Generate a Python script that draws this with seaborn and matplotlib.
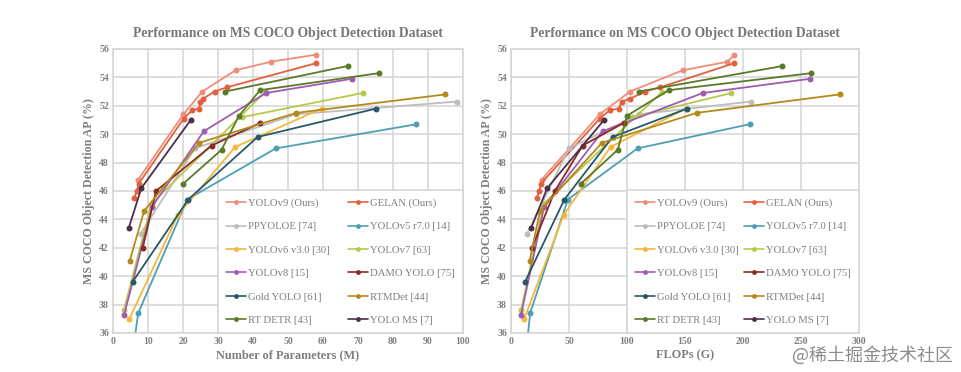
import matplotlib
matplotlib.use("Agg")
import matplotlib.pyplot as plt
from matplotlib.lines import Line2D
import seaborn as sns
import pandas as pd

# ---------------- data ----------------
models = ["YOLOv9 (Ours)", "GELAN (Ours)", "PPYOLOE [74]", "YOLOv5 r7.0 [14]",
          "YOLOv6 v3.0 [30]", "YOLOv7 [63]", "YOLOv8 [15]", "DAMO YOLO [75]",
          "Gold YOLO [61]", "RTMDet [44]", "RT DETR [43]", "YOLO MS [7]"]

yolov9_params = [7.2, 20.1, 25.5, 35.0, 45.0, 58.0]
yolov9_flops = [26.4, 76.5, 102.5, 148.0, 186.5, 192.5]
yolov9_ap = [46.8, 51.4, 53.0, 54.5, 55.1, 55.6]

gelan_params = [6.0, 6.8, 7.3, 20.2, 22.7, 24.7, 24.9, 25.7, 29.0, 32.5, 58.0]
gelan_flops = [22.1, 24.4, 25.6, 76.5, 85.3, 93.0, 95.4, 102.5, 115.5, 128.4, 192.5]
gelan_ap = [45.5, 46.0, 46.5, 51.1, 51.7, 51.8, 52.3, 52.5, 53.0, 53.3, 55.0]

ppyoloe_params = [7.9, 23.4, 52.2, 98.4]
ppyoloe_flops = [14.0, 49.9, 110.1, 206.6]
ppyoloe_ap = [43.0, 49.0, 51.4, 52.3]

yolov5_params = [1.9, 7.2, 21.2, 46.5, 86.7]
yolov5_flops = [4.5, 16.5, 49.0, 109.1, 205.7]
yolov5_ap = [28.0, 37.4, 45.4, 49.0, 50.7]

yolov6_params = [4.7, 18.5, 34.9, 59.6]
yolov6_flops = [11.4, 45.3, 85.8, 150.7]
yolov6_ap = [37.0, 44.3, 49.1, 51.8]

yolov7_af_params = [3.1, 11.0, 43.6]
yolov7_af_flops = [8.7, 28.1, 130.5]
yolov7_af_ap = [37.6, 45.1, 53.0]
yolov7_params = [36.9, 71.3]
yolov7_flops = [104.7, 189.9]
yolov7_ap = [51.2, 52.9]

yolov8_params = [3.2, 11.2, 25.9, 43.7, 68.2]
yolov8_flops = [8.7, 28.6, 78.9, 165.2, 257.8]
yolov8_ap = [37.3, 44.9, 50.2, 52.9, 53.9]

damo_params = [8.5, 12.3, 28.2, 42.1]
damo_flops = [18.1, 37.8, 61.8, 97.3]
damo_ap = [42.0, 46.0, 49.2, 50.8]

gold_params = [5.6, 21.5, 41.3, 75.1]
gold_flops = [12.1, 46.0, 87.5, 151.7]
gold_ap = [39.6, 45.4, 49.8, 51.8]

rtmdet_params = [4.8, 8.9, 24.7, 52.3, 94.9]
rtmdet_flops = [16.1, 25.0, 78.5, 160.0, 283.3]
rtmdet_ap = [41.1, 44.6, 49.4, 51.5, 52.8]

rtdetr_r_params = [20.0, 31.0, 36.0, 42.0, 76.0]
rtdetr_r_flops = [60.0, 92.0, 100.0, 136.0, 259.0]
rtdetr_r_ap = [46.5, 48.9, 51.3, 53.1, 54.3]
rtdetr_params = [32.0, 67.0]
rtdetr_flops = [110.0, 234.0]
rtdetr_ap = [53.0, 54.8]

yoloms_params = [4.5, 8.1, 22.2]
yoloms_flops = [17.4, 31.2, 80.2]
yoloms_ap = [43.4, 46.2, 51.0]

series = [
    ("YOLOv9 (Ours)", yolov9_params, yolov9_flops, yolov9_ap),
    ("GELAN (Ours)", gelan_params, gelan_flops, gelan_ap),
    ("PPYOLOE [74]", ppyoloe_params, ppyoloe_flops, ppyoloe_ap),
    ("YOLOv5 r7.0 [14]", yolov5_params, yolov5_flops, yolov5_ap),
    ("YOLOv6 v3.0 [30]", yolov6_params, yolov6_flops, yolov6_ap),
    ("YOLOv7 [63]", yolov7_af_params, yolov7_af_flops, yolov7_af_ap),
    ("YOLOv7 [63]", yolov7_params, yolov7_flops, yolov7_ap),
    ("YOLOv8 [15]", yolov8_params, yolov8_flops, yolov8_ap),
    ("DAMO YOLO [75]", damo_params, damo_flops, damo_ap),
    ("Gold YOLO [61]", gold_params, gold_flops, gold_ap),
    ("RTMDet [44]", rtmdet_params, rtmdet_flops, rtmdet_ap),
    ("RT DETR [43]", rtdetr_r_params, rtdetr_r_flops, rtdetr_r_ap),
    ("RT DETR [43]", rtdetr_params, rtdetr_flops, rtdetr_ap),
    ("YOLO MS [7]", yoloms_params, yoloms_flops, yoloms_ap),
]

colors = {
    "YOLOv9 (Ours)": "#EE8E7A",
    "GELAN (Ours)": "#E3603F",
    "PPYOLOE [74]": "#BDBDBD",
    "YOLOv5 r7.0 [14]": "#4E9FB3",
    "YOLOv6 v3.0 [30]": "#F3B83C",
    "YOLOv7 [63]": "#B7C94C",
    "YOLOv8 [15]": "#A05CB0",
    "DAMO YOLO [75]": "#8A2B24",
    "Gold YOLO [61]": "#275868",
    "RTMDet [44]": "#B58A1A",
    "RT DETR [43]": "#5B7A27",
    "YOLO MS [7]": "#4B2F4B",
}

rows = []
for seg, (name, p, f, a) in enumerate(series):
    for i in range(len(p)):
        rows.append({"model": name, "seg": seg, "params": p[i], "flops": f[i], "ap": a[i], "idx": i})
df = pd.DataFrame(rows)

# ---------------- style ----------------
sns.set_theme(style="whitegrid")
plt.rcParams["font.family"] = ["Liberation Serif", "DejaVu Serif"]
grey_txt = "#7f7f7f"
grid_c = "#d4d4d4"

fig = plt.figure(figsize=(9.61, 3.72), dpi=100)
ax1 = fig.add_axes([113 / 961, 39 / 372, 350 / 961, 284 / 372])
ax2 = fig.add_axes([511 / 961, 39 / 372, 348 / 961, 284 / 372])

legend_order = ["YOLOv9 (Ours)", "PPYOLOE [74]", "YOLOv6 v3.0 [30]", "YOLOv8 [15]",
                "Gold YOLO [61]", "RT DETR [43]",
                "GELAN (Ours)", "YOLOv5 r7.0 [14]", "YOLOv7 [63]", "DAMO YOLO [75]",
                "RTMDet [44]", "YOLO MS [7]"]

def draw(ax, xcol, xmax, xstep, xlabel, leg_left):
    sns.lineplot(data=df, x=xcol, y="ap", hue="model", units="seg", estimator=None,
                 sort=False, palette=colors, hue_order=models, marker="o",
                 markersize=4.3, markeredgewidth=0, linewidth=1.3, legend=False, ax=ax)
    ax.set_xlim(0, xmax)
    ax.set_ylim(36, 56)
    ax.set_xticks(range(0, xmax + 1, xstep))
    ax.set_yticks(range(36, 57, 2))
    ax.grid(True, color=grid_c, linewidth=1.1)
    for s in ax.spines.values():
        s.set_color(grid_c)
        s.set_linewidth(1.1)
    ax.tick_params(axis="both", labelsize=7, colors=grey_txt, pad=3, length=0)
    for lab in ax.get_xticklabels() + ax.get_yticklabels():
        lab.set_fontweight("bold")
    ax.set_xlabel(xlabel, fontsize=8.8, fontweight="bold", color=grey_txt, labelpad=2)
    ax.set_ylabel("MS COCO Object Detection AP (%)", fontsize=8.6, fontweight="bold",
                  color=grey_txt, labelpad=3)
    ax.set_title("Performance on MS COCO Object Detection Dataset", fontsize=9.8,
                 fontweight="bold", color="#777777", pad=9)
    handles = [Line2D([0], [0], color=colors[m], marker="o", markersize=3.5,
                      markeredgewidth=0, linewidth=1.2) for m in legend_order]
    leg = ax.legend(handles, legend_order, ncol=2, loc="lower left",
                    bbox_to_anchor=(leg_left, 0.0, 1 - leg_left, 0.0), mode="expand",
                    borderaxespad=0, fontsize=7.7, frameon=True, fancybox=False,
                    framealpha=1, edgecolor=grid_c, facecolor="white",
                    handlelength=1.9, handletextpad=0.2, labelspacing=1.3,
                    borderpad=0.75, columnspacing=1.0, labelcolor=grey_txt)
    leg.get_frame().set_linewidth(1.1)

draw(ax1, "params", 100, 10, "Number of Parameters (M)", 0.3)
draw(ax2, "flops", 300, 50, "FLOPs (G)", 1 / 3)

fig.text(0.992, 0.045, "@稀土掘金技术社区", ha="right", va="center", fontsize=13,
         color="#8c8c8c", family=["Noto Sans CJK SC", "DejaVu Sans"])

fig.savefig("out.png", dpi=100)
